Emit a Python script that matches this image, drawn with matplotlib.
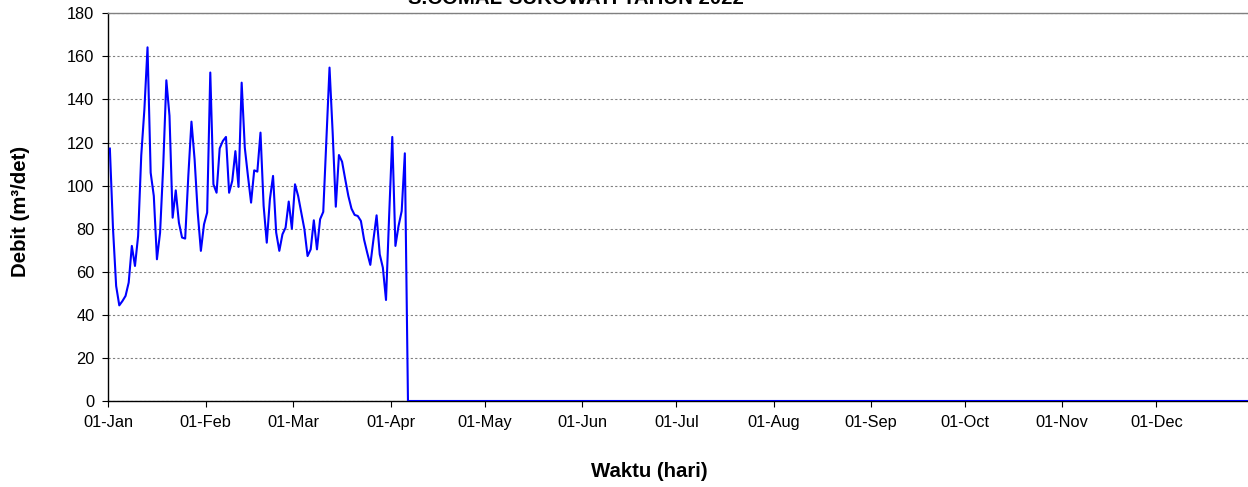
import numpy as np
import pandas as pd
import matplotlib
matplotlib.use('Agg')
import matplotlib.pyplot as plt
import matplotlib.dates as mdates

plt.rcParams['font.family'] = ['Liberation Sans', 'DejaVu Sans']

# debit harian (m3/det), 01-Jan s/d 05-Apr 2022, sisanya tercatat 0
debit_awal = [117.2, 80.0, 53.4, 44.4, 46.4, 48.8, 55.0, 72.0, 62.7, 76.6,
              114.0, 135.4, 164.2, 106.0, 95.2, 65.8, 78.2, 109.0, 148.9, 132.4,
              85.1, 97.8, 82.8, 75.9, 75.4, 104.5, 129.7, 112.2, 87.5, 69.7,
              82.0, 87.5, 152.5, 100.6, 96.7, 117.3, 120.7, 122.6, 96.7, 102.2,
              116.0, 99.4, 147.8, 117.6, 104.5, 92.1, 107.1, 106.5, 124.6, 90.6,
              73.5, 93.7, 104.5, 78.2, 69.7, 77.4, 80.5, 92.6, 80.0, 100.6,
              95.2, 87.5, 79.7, 67.3, 70.4, 83.9, 70.4, 84.4, 87.8, 121.5,
              154.8, 124.6, 90.2, 114.2, 111.1, 103.0, 95.2, 89.3, 86.4, 85.9,
              83.6, 75.0, 68.9, 63.2, 75.0, 86.2, 68.1, 61.9, 46.9, 86.0,
              122.6, 72.0, 81.3, 88.2, 115.0]
tanggal = pd.date_range('2022-01-01 12:00', '2022-12-31 12:00', freq='D')
debit = debit_awal + [0.0] * (len(tanggal) - len(debit_awal))

judul = 'S.COMAL-SUKOWATI TAHUN 2022'
label_x = 'Waktu (hari)'
label_y = 'Debit (m\u00b3/det)'

fig = plt.figure(figsize=(12.48, 4.87), dpi=100)
ax = fig.add_axes([108.3 / 1248, 86 / 487, 1142.2 / 1248, 387.7 / 487])

ax.plot(tanggal, debit, color='#0000ff', lw=1.5, zorder=3)

ax.set_xlim(pd.Timestamp('2022-01-01'), pd.Timestamp('2022-12-31'))
ax.set_ylim(0, 180)
ax.set_yticks(np.arange(0, 181, 20))
ax.xaxis.set_major_locator(mdates.MonthLocator())
ax.xaxis.set_major_formatter(mdates.DateFormatter('%d-%b'))

ax.grid(axis='y', color='#808080', ls=(0, (2, 2)), lw=0.8)
ax.tick_params(axis='both', labelsize=11.8, length=4, width=0.8, color='black')
ax.tick_params(axis='x', pad=6)
ax.tick_params(axis='y', pad=6)

for s in ['left', 'bottom']:
    ax.spines[s].set_color('black')
    ax.spines[s].set_linewidth(1)
ax.spines['top'].set_color('#808080')
ax.spines['top'].set_linewidth(1)
ax.spines['right'].set_visible(False)

fig.text(576 / 1248, (487 - 4) / 487, judul, ha='center', va='baseline',
         fontsize=14.7, fontweight='bold')
fig.text(649 / 1248, (487 - 477) / 487, label_x, ha='center', va='baseline',
         fontsize=14.7, fontweight='bold')
fig.text(21 / 1248, (487 - 211) / 487, label_y, ha='center', va='center',
         rotation=90, fontsize=14.7, fontweight='bold')

fig.savefig('out.png', dpi=100)
